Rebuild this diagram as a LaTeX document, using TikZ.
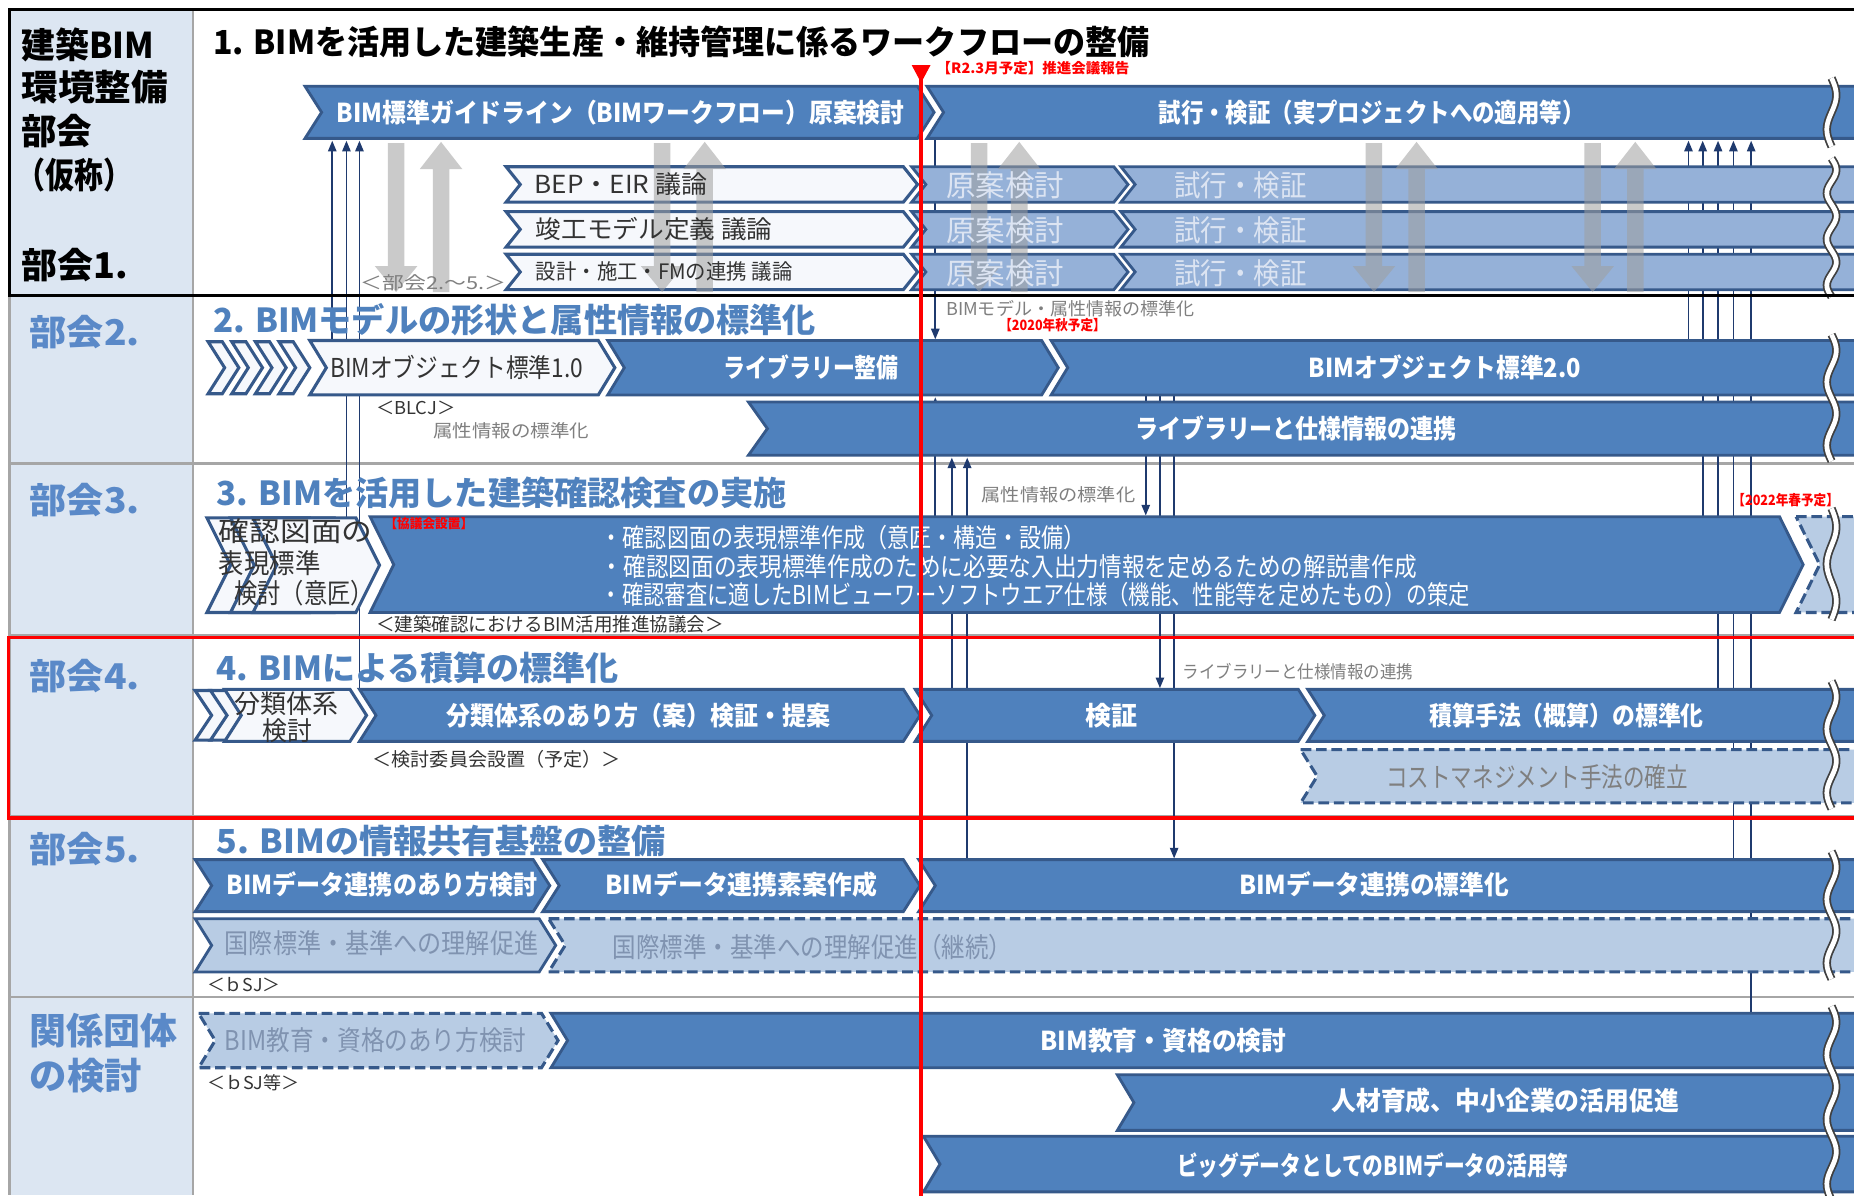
\documentclass[tikz,border=0pt]{standalone}
\usepackage{fontspec}
\setmainfont{Noto Sans CJK JP}
\usepackage{graphicx}
\usetikzlibrary{arrows.meta}
\definecolor{dblue}{HTML}{4F81BD}
\definecolor{dborder}{HTML}{36598A}
\definecolor{lblue}{HTML}{95B1D8}
\definecolor{pale}{HTML}{B8CCE4}
\definecolor{wfill}{HTML}{F6F8FC}
\definecolor{navy}{HTML}{1F3A6E}
\definecolor{colfill}{HTML}{DCE6F2}
\definecolor{sepc}{HTML}{A6A6A6}
\definecolor{lbl}{HTML}{5A89C8}
\definecolor{ttl}{HTML}{4F81BD}
\definecolor{darktxt}{HTML}{333333}
\definecolor{graytxt}{HTML}{7F7F7F}
\definecolor{bgtxt}{HTML}{8093B0}
\definecolor{paletxt}{HTML}{DCE4F2}
\definecolor{redc}{HTML}{FF0000}
\newcommand\sq[2]{\resizebox{#1pt}{\height}{#2}}
\newcommand\fs[1]{\fontsize{#1}{#1}\selectfont}
\newcommand\chev[6]{\path[#1] (#2,#4) -- ({#3-#6},#4) -- (#3,{(#4+#5)/2}) -- ({#3-#6},#5) -- (#2,#5) -- ({#2+#6},{(#4+#5)/2}) -- cycle;}
\newcommand\wavy[4]{%
  \draw[line width=7pt,black!75] plot[domain=#2:#3,samples=60,smooth,variable=\t] ({#1+4*sin((\t-#2)/(#3-#2)*360*#4)},\t);
  \draw[line width=4pt,white] plot[domain=#2:#3,samples=60,smooth,variable=\t] ({#1+4*sin((\t-#2)/(#3-#2)*360*#4)},\t);}
\newcommand\gup[1]{\fill[garrow] ({#1-7},247) -- ({#1-7},143) -- ({#1-18},143) -- (#1,120) -- ({#1+18},143) -- ({#1+7},143) -- ({#1+7},247) -- cycle;}
\newcommand\gdn[1]{\fill[garrow] ({#1-7},121) -- ({#1-7},225) -- ({#1-18},225) -- (#1,247) -- ({#1+18},225) -- ({#1+7},225) -- ({#1+7},121) -- cycle;}
\begin{document}
\begin{tikzpicture}[x=1pt,y=-1pt,
  every node/.style={inner sep=0pt},
  tl/.style={anchor=west},
  tc/.style={anchor=center},
  dbar/.style={fill=dblue,draw=dborder,line width=2.4pt,line join=miter},
  lbar/.style={fill=lblue,draw=dborder,line width=2.4pt},
  pbar/.style={fill=pale,draw=dborder,line width=2.4pt},
  dashbar/.style={fill=pale,draw=dborder,line width=2.6pt,dash pattern=on 9pt off 4pt},
  wbar/.style={fill=wfill,draw=dborder,line width=2.6pt},
  garrow/.style={fill=gray!75,opacity=0.55},
  navyline/.style={draw=navy,line width=1.5pt},
  tip/.style={-{Triangle[width=7pt,length=9pt]}},
  wtxt/.style={text=white,font=\bfseries},
]
\useasboundingbox (0,0) rectangle (1568,1011);
\clip (0,0) rectangle (1568,1011);
\fill[white] (0,0) rectangle (1568,1011);

% left column and separators
\fill[colfill] (8,8) rectangle (163,1011);
\draw[sepc,line width=2pt] (8,8) -- (8,1011);
\draw[sepc,line width=2pt] (163,8) -- (163,1011);
\foreach \yy in {392,537,690,843} \draw[sepc,line width=2pt] (8,\yy) -- (1568,\yy);

% connector lines (behind bars)
\begin{scope}[navyline]
\draw[tip] (281,290) -- (281,119);
\draw[tip] (293,438) -- (293,119);
\draw[tip] (304,584) -- (304,119);
\draw[tip] (1428,290) -- (1428,119);
\draw[tip] (1440,438) -- (1440,119);
\draw[tip] (1453,584) -- (1453,119);
\draw[tip] (1466,728) -- (1466,119);
\draw[tip] (1481,858) -- (1481,119);
\draw[tip] (791,110) -- (791,287);
\draw[tip] (791,438) -- (791,336);
\draw[tip] (805,584) -- (805,387);
\draw[tip] (818,728) -- (818,387);
\draw[tip] (969,330) -- (969,436);
\draw[tip] (981,330) -- (981,582);
\draw[tip] (993,330) -- (993,726);
\end{scope}

% ---------- row 1 bars
\chev{dbar}{258}{790}{73}{117}{14}
\chev{dbar}{784}{1600}{73}{117}{14}
\chev{wbar}{428}{776}{141}{171}{12}
\chev{wbar}{428}{776}{179}{209}{12}
\chev{wbar}{428}{776}{215}{245}{12}
\chev{lbar}{771}{954}{141}{171}{12}
\chev{lbar}{771}{954}{179}{209}{12}
\chev{lbar}{771}{954}{215}{245}{12}
\chev{lbar}{948}{1600}{141}{171}{12}
\chev{lbar}{948}{1600}{179}{209}{12}
\chev{lbar}{948}{1600}{215}{245}{12}

% ---------- row 2 bars
\foreach \i in {0,1,2,3} {\chev{wbar}{176+20*\i}{202+20*\i}{289}{333}{14}}
\chev{wbar}{262}{520}{288}{334}{14}
\chev{dbar}{514}{895}{288}{334}{14}
\chev{dbar}{889}{1600}{288}{334}{14}
\chev{dbar}{633}{1600}{340}{385}{16}

% ---------- row 3 bars
\chev{wbar}{175}{282}{438}{518}{20}
\chev{wbar}{195}{303}{438}{518}{20}
\chev{wbar}{214}{321}{438}{518}{20}
\chev{dbar}{313}{1525}{437}{518}{20}
\chev{dashbar}{1519}{1600}{437}{518}{20}

% ---------- row 4 bars
\chev{wbar}{165}{193}{584}{626}{14}
\chev{wbar}{178}{206}{584}{626}{14}
\chev{wbar}{190}{310}{583}{627}{14}
\chev{dbar}{304}{778}{583}{627}{14}
\chev{dbar}{774}{1112}{583}{627}{14}
\chev{dbar}{1106}{1600}{583}{627}{14}
\chev{dashbar}{1100}{1600}{634}{679}{14}

% ---------- row 5 bars
\chev{dbar}{165}{465}{727}{771}{14}
\chev{dbar}{459}{778}{727}{771}{14}
\chev{dbar}{777}{1600}{727}{771}{14}
\chev{pbar}{165}{470}{777}{822}{14}
\chev{dashbar}{464}{1600}{777}{822}{14}

% ---------- row 6 bars
\chev{dashbar}{168}{472}{857}{903}{14}
\chev{dbar}{466}{1600}{857}{903}{14}
\chev{dbar}{945}{1600}{909}{956}{14}
\chev{dbar}{781}{1600}{961}{1008}{14}

% gray translucent arrows
\gdn{335}\gup{373}
\gdn{560}\gup{596}
\gdn{828}\gup{862}
\gdn{1162}\gup{1198}
\gdn{1347}\gup{1383}

% wavy breaks
\wavy{1549}{66}{124}{1}
\wavy{1549}{134}{251}{3}
\wavy{1549}{283}{390}{2}
\wavy{1549}{430}{524}{1.5}
\wavy{1549}{576}{684}{2}
\wavy{1549}{720}{828}{2}
\wavy{1549}{851}{1015}{3}

% ---------- texts: left column
\node[tl] (c1a) at (18,38) {\sq{112}{\fs{30}\bfseries 建築BIM}};
\node[tl] (c1b) at (18,74) {\sq{124}{\fs{30}\bfseries 環境整備}};
\node[tl] (c1c) at (18,111) {\sq{60}{\fs{30}\bfseries 部会}};
\node[tl] (c1d) at (14,148) {\sq{98}{\fs{30}\bfseries （仮称）}};
\node[tl] (c1e) at (18,224) {\sq{90}{\fs{30}\bfseries 部会1.}};
\node[tl,text=lbl] (c2) at (25,281) {\sq{93}{\fs{30}\bfseries 部会2.}};
\node[tl,text=lbl] (c3) at (25,423) {\sq{93}{\fs{30}\bfseries 部会3.}};
\node[tl,text=lbl] (c4) at (25,572) {\sq{93}{\fs{30}\bfseries 部会4.}};
\node[tl,text=lbl] (c5) at (25,718) {\sq{93}{\fs{30}\bfseries 部会5.}};
\node[tl,text=lbl] (c6a) at (25,872) {\sq{125}{\fs{31}\bfseries 関係団体}};
\node[tl,text=lbl] (c6b) at (25,910) {\sq{95}{\fs{31}\bfseries の検討}};

% row titles
\node[tl] (h1) at (180,35) {\sq{792}{\fs{28}\bfseries 1. BIMを活用した建築生産・維持管理に係るワークフローの整備}};
\node[tl,text=ttl] (h2) at (180,270) {\sq{510}{\fs{28}\bfseries 2. BIMモデルの形状と属性情報の標準化}};
\node[tl,text=ttl] (h3) at (183,417) {\sq{482}{\fs{28}\bfseries 3. BIMを活用した建築確認検査の実施}};
\node[tl,text=ttl] (h4) at (183,565) {\sq{340}{\fs{28}\bfseries 4. BIMによる積算の標準化}};
\node[tl,text=ttl] (h5) at (183,711) {\sq{380}{\fs{28}\bfseries 5. BIMの情報共有基盤の整備}};

% row 1 texts
\node[tc,wtxt] (b11) at (525,95) {\sq{480}{\fs{22}BIM標準ガイドライン（BIMワークフロー）原案検討}};
\node[tc,wtxt] (b12) at (1160,95) {\sq{360}{\fs{22}試行・検証（実プロジェクトへの適用等）}};
\node[tl,text=darktxt] (s1) at (452,156) {\sq{146}{\fs{21}BEP・EIR 議論}};
\node[tl,text=darktxt] (s2) at (453,194) {\sq{200}{\fs{21}竣工モデル定義 議論}};
\node[tl,text=darktxt] (s3) at (453,230) {\sq{217}{\fs{18}設計・施工・FMの連携 議論}};
\foreach \yy/\nm in {157/a,195/b,231/c} {
  \node[tl,text=paletxt] (g\nm) at (800,\yy) {\sq{100}{\fs{25}原案検討}};
  \node[tl,text=paletxt] (v\nm) at (993,\yy) {\sq{112}{\fs{25}試行・検証}};
}
\node[tl,text=graytxt] (bk) at (305,239) {\sq{123}{\fs{15}＜部会2.～5.＞}};

% row 2 texts
\node[tl,text=darktxt] (b21) at (279,311) {\sq{214}{\fs{22}BIMオブジェクト標準1.0}};
\node[tc,wtxt] (b22) at (686,311) {\sq{148}{\fs{22}ライブラリー整備}};
\node[tc,wtxt] (b23) at (1222,311) {\sq{230}{\fs{22}BIMオブジェクト標準2.0}};
\node[tc,wtxt] (b24) at (1096,362) {\sq{272}{\fs{22}ライブラリーと仕様情報の連携}};
\node[tl,text=darktxt] (n21) at (318,345) {\sq{67}{\fs{15}＜BLCJ＞}};
\node[tl,text=graytxt] (n22) at (366,364) {\sq{132}{\fs{15}属性情報の標準化}};
\node[tl,text=graytxt] (n23) at (800,261) {\sq{210}{\fs{15}BIMモデル・属性情報の標準化}};
\node[tl,text=redc] (n24) at (845,275) {\sq{90}{\fs{12}\bfseries 【2020年秋予定】}};
\node[tl,text=graytxt] (n25) at (830,418) {\sq{130}{\fs{15}属性情報の標準化}};

% row 3 texts
\node[tl,text=darktxt] (k1) at (185,449) {\sq{130}{\fs{23}確認図面の}};
\node[tl,text=darktxt] (k2) at (185,476) {\sq{86}{\fs{23}表現標準}};
\node[tl,text=darktxt] (k3) at (198,502) {\sq{118}{\fs{23}検討（意匠）}};
\node[tl,text=redc] (k4) at (325,443) {\sq{75}{\fs{11}\bfseries 【協議会設置】}};
\node[tl,text=white] (k5) at (508,455) {\sq{410}{\fs{22}・確認図面の表現標準作成（意匠・構造・設備）}};
\node[tl,text=white] (k6) at (508,479) {\sq{690}{\fs{22}・確認図面の表現標準作成のために必要な入出力情報を定めるための解説書作成}};
\node[tl,text=white] (k7) at (508,503) {\sq{735}{\fs{22}・確認審査に適したBIMビューワーソフトウエア仕様（機能、性能等を定めたもの）の策定}};
\node[tl,text=redc] (k8) at (1465,423) {\sq{90}{\fs{12}\bfseries 【2022年春予定】}};
\node[tl,text=darktxt] (k9) at (318,528) {\sq{294}{\fs{16}＜建築確認におけるBIM活用推進協議会＞}};

% row 4 texts
\node[tl,text=darktxt] (m1) at (198,595) {\sq{88}{\fs{22}分類体系}};
\node[tl,text=darktxt] (m2) at (222,618) {\sq{42}{\fs{22}検討}};
\node[tc,wtxt] (m3) at (540,605) {\sq{325}{\fs{22}分類体系のあり方（案）検証・提案}};
\node[tc,wtxt] (m4) at (940,605) {\sq{44}{\fs{22}検証}};
\node[tc,wtxt] (m5) at (1325,605) {\sq{232}{\fs{22}積算手法（概算）の標準化}};
\node[tc,text=graytxt] (m6) at (1300,657) {\sq{255}{\fs{23}コストマネジメント手法の確立}};
\node[tl,text=darktxt] (m7) at (315,642) {\sq{210}{\fs{16}＜検討委員会設置（予定）＞}};
\node[tl,text=graytxt] (m8) at (1000,568) {\sq{195}{\fs{15}ライブラリーと仕様情報の連携}};

% row 5 texts
\node[tc,wtxt] (p1) at (323,748) {\sq{263}{\fs{22}BIMデータ連携のあり方検討}};
\node[tc,wtxt] (p2) at (627,748) {\sq{230}{\fs{22}BIMデータ連携素案作成}};
\node[tc,wtxt] (p3) at (1162,748) {\sq{228}{\fs{22}BIMデータ連携の標準化}};
\node[tl,text=bgtxt] (p4) at (190,798) {\sq{265}{\fs{23}国際標準・基準への理解促進}};
\node[tl,text=bgtxt] (p5) at (518,801) {\sq{338}{\fs{23}国際標準・基準への理解促進（継続）}};
\node[tl,text=darktxt] (p6) at (175,833) {\sq{62}{\fs{15}＜ｂSJ＞}};

% row 6 texts
\node[tl,text=bgtxt] (q1) at (190,880) {\sq{255}{\fs{23}BIM教育・資格のあり方検討}};
\node[tc,wtxt] (q2) at (984,880) {\sq{208}{\fs{22}BIM教育・資格の検討}};
\node[tl,text=darktxt] (q3) at (175,916) {\sq{78}{\fs{15}＜ｂSJ等＞}};
\node[tc,wtxt] (q4) at (1273,931) {\sq{294}{\fs{22}人材育成、中小企業の活用促進}};
\node[tc,wtxt] (q5) at (1161,986) {\sq{331}{\fs{22}ビッグデータとしてのBIMデータの活用等}};

% frames and red marker
\draw[black,line width=3pt] (8,8) rectangle (1600,250);
\draw[redc,line width=3pt] (7,539) rectangle (1600,692);
\draw[redc,line width=3pt] (779,64) -- (779,1015);
\fill[redc] (771,55) -- (787,55) -- (779,70) -- cycle;
\node[tl,text=redc] (rm) at (792,58) {\sq{163}{\fs{12}\bfseries 【R2.3月予定】推進会議報告}};
\end{tikzpicture}
\end{document}
